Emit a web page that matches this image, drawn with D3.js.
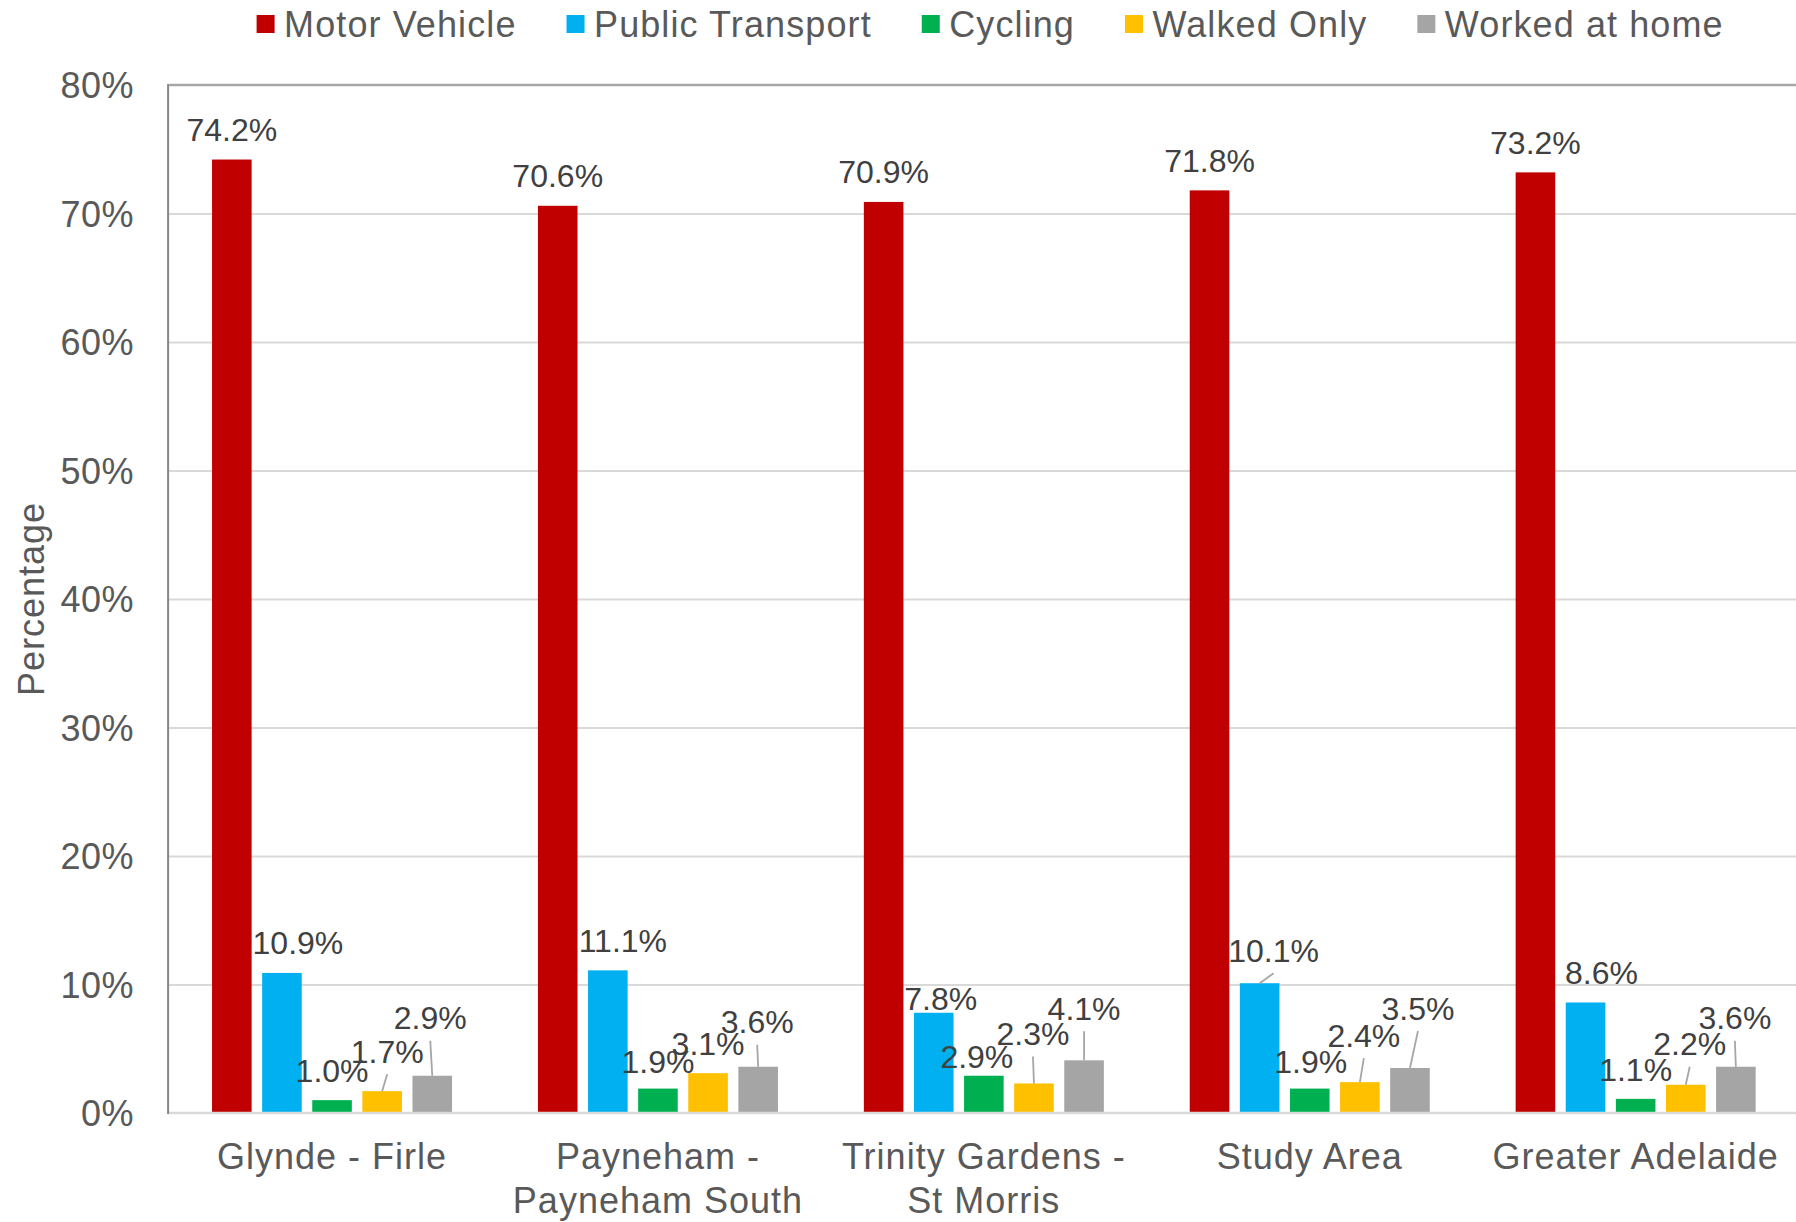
<!DOCTYPE html>
<html>
<head>
<meta charset="utf-8">
<script src="https://cdn.jsdelivr.net/npm/d3@7"></script>
<style>
  html, body { margin: 0; padding: 0; background: #ffffff; }
  svg { display: block; }
  text { font-family: "Liberation Sans", Arial, sans-serif; }
</style>
</head>
<body>
<svg id="chart" width="1796" height="1222"></svg>
<script>
// ---------- data ----------
const categories = ["Glynde - Firle", "Payneham - Payneham South", "Trinity Gardens - St Morris", "Study Area", "Greater Adelaide"];
const categoryLines = [["Glynde - Firle"], ["Payneham -", "Payneham South"], ["Trinity Gardens -", "St Morris"], ["Study Area"], ["Greater Adelaide"]];
const series = ["Motor Vehicle", "Public Transport", "Cycling", "Walked Only", "Worked at home"];
const motorVehicle   = [74.2, 70.6, 70.9, 71.8, 73.2];
const publicTransport = [10.9, 11.1, 7.8, 10.1, 8.6];
const cycling        = [1.0, 1.9, 2.9, 1.9, 1.1];
const walkedOnly     = [1.7, 3.1, 2.3, 2.4, 2.2];
const workedAtHome   = [2.9, 3.6, 4.1, 3.5, 3.6];
const yTicks = [0, 10, 20, 30, 40, 50, 60, 70, 80];
const yTickLabels = ["0%", "10%", "20%", "30%", "40%", "50%", "60%", "70%", "80%"];

// ---------- styling / layout (kept separate from data) ----------
const colors = ["#C00000", "#00B0F0", "#00B050", "#FFC000", "#A5A5A5"];
// label nudges [dx, dy] per series per category (manual Excel label moves)
const labelNudge = [
  [[0,0],[0,0],[0,0],[0,0],[0,0]],
  [[16,0],[15,0],[7,16],[14,-3],[16,0]],
  [[0,0],[0,3],[-7,11],[1,3],[0,1]],
  [[5,-10],[0,0],[-1,-20],[4,-17],[4,-11]],
  [[-2,-28],[-1,-15],[0,-22],[8,-30],[-1,-19]]
];

const values = [motorVehicle, publicTransport, cycling, walkedOnly, workedAtHome];

const svg = d3.select("#chart");
const W = 1796, H = 1222;
const plot = { left: 169.1, right: 1798.6, top: 85, bottom: 1113 };

const x0 = d3.scaleBand().domain(categories).range([plot.left, plot.right]).padding(0);
const x1 = d3.scaleBand().domain(series).range([0, x0.bandwidth()]).paddingInner(0.21).paddingOuter(0.857);
const y = d3.scaleLinear().domain([0, 80]).range([plot.bottom, plot.top]);

// gridlines
const yAxisGrid = d3.axisLeft(y).tickValues(yTicks.filter(t => t > 0 && t < 80)).tickSize(-(plot.right - plot.left)).tickFormat("");
const gg = svg.append("g").attr("transform", `translate(${plot.left},0)`).call(yAxisGrid);
gg.select(".domain").remove();
gg.selectAll(".tick line").attr("stroke", "#D9D9D9").attr("stroke-width", 2);

// top border line at 80%
svg.append("line").attr("x1", plot.left).attr("x2", W).attr("y1", y(80)).attr("y2", y(80))
  .attr("stroke", "#A6A6A6").attr("stroke-width", 2.5);

// y tick labels
const yAxis = d3.axisLeft(y).tickValues(yTicks).tickSize(0).tickPadding(35)
  .tickFormat((d, i) => yTickLabels[i]);
const ya = svg.append("g").attr("transform", `translate(${plot.left},0)`).call(yAxis);
ya.select(".domain").remove();
ya.selectAll(".tick text").attr("font-size", 36).attr("fill", "#595959")
  .attr("font-family", "'Liberation Sans', Arial, sans-serif").attr("dy", "0.36em")
  .attr("letter-spacing", 0.5);

// bars
const groups = svg.append("g").selectAll("g").data(series).join("g").attr("fill", (d, i) => colors[i]);
groups.selectAll("rect")
  .data((s, si) => categories.map((c, ci) => ({ s, si, c, ci, v: values[si][ci] })))
  .join("rect")
  .attr("x", d => x0(d.c) + x1(d.s))
  .attr("y", d => y(d.v))
  .attr("width", x1.bandwidth())
  .attr("height", d => y(0) - y(d.v));

// bottom axis line
svg.append("line").attr("x1", plot.left).attr("x2", W).attr("y1", y(0)).attr("y2", y(0))
  .attr("stroke", "#D9D9D9").attr("stroke-width", 2.5);
// left axis line
svg.append("line").attr("x1", plot.left - 1).attr("x2", plot.left - 1).attr("y1", y(80) - 1).attr("y2", y(0) + 1)
  .attr("stroke", "#868686").attr("stroke-width", 2);

// data labels
const labelData = [];
series.forEach((s, si) => categories.forEach((c, ci) => {
  const v = values[si][ci];
  const bx = x0(c) + x1(s) + x1.bandwidth() / 2;
  const by = y(v);
  const [dx, dy] = labelNudge[si][ci];
  labelData.push({ v, bx, by, cx: bx + dx, cy: by - 30 + dy, leader: dy < -2 });
}));
svg.append("g").selectAll("line").data(labelData.filter(d => d.leader)).join("line")
  .attr("x1", d => d.cx).attr("y1", d => Math.min(d.cy + 23, d.by))
  .attr("x2", d => d.bx).attr("y2", d => d.by)
  .attr("stroke", "#A6A6A6").attr("stroke-width", 1.8);
svg.append("g").selectAll("text").data(labelData).join("text")
  .attr("x", d => d.cx).attr("y", d => d.cy).attr("dy", "0.36em")
  .attr("text-anchor", "middle").attr("font-size", 32).attr("fill", "#404040")
  .text(d => d.v.toFixed(1) + "%");

// category labels
const cat = svg.append("g");
categories.forEach((c, ci) => {
  const cxm = x0(c) + x0.bandwidth() / 2;
  const t = cat.append("text").attr("x", cxm).attr("y", 1169)
    .attr("text-anchor", "middle").attr("font-size", 36).attr("fill", "#595959")
    .attr("letter-spacing", 1);
  categoryLines[ci].forEach((ln, li) => {
    t.append("tspan").attr("x", cxm).attr("y", 1169 + li * 43.5).text(ln);
  });
});

// y axis title
svg.append("text").attr("transform", `translate(44,599) rotate(-90)`)
  .attr("text-anchor", "middle").attr("font-size", 36).attr("fill", "#595959")
  .attr("letter-spacing", 1).text("Percentage");

// legend
const leg = svg.append("g");
let lx = 256.6;
series.forEach((s, i) => {
  leg.append("rect").attr("x", lx).attr("y", 15).attr("width", 18).attr("height", 18).attr("fill", colors[i]);
  const t = leg.append("text").attr("x", lx + 27.5).attr("y", 24).attr("dy", "0.36em")
    .attr("font-size", 36).attr("fill", "#595959").attr("letter-spacing", 1.1).text(s);
  lx = lx + 27.5 + t.node().getComputedTextLength() + 50;
});
</script>
</body>
</html>
